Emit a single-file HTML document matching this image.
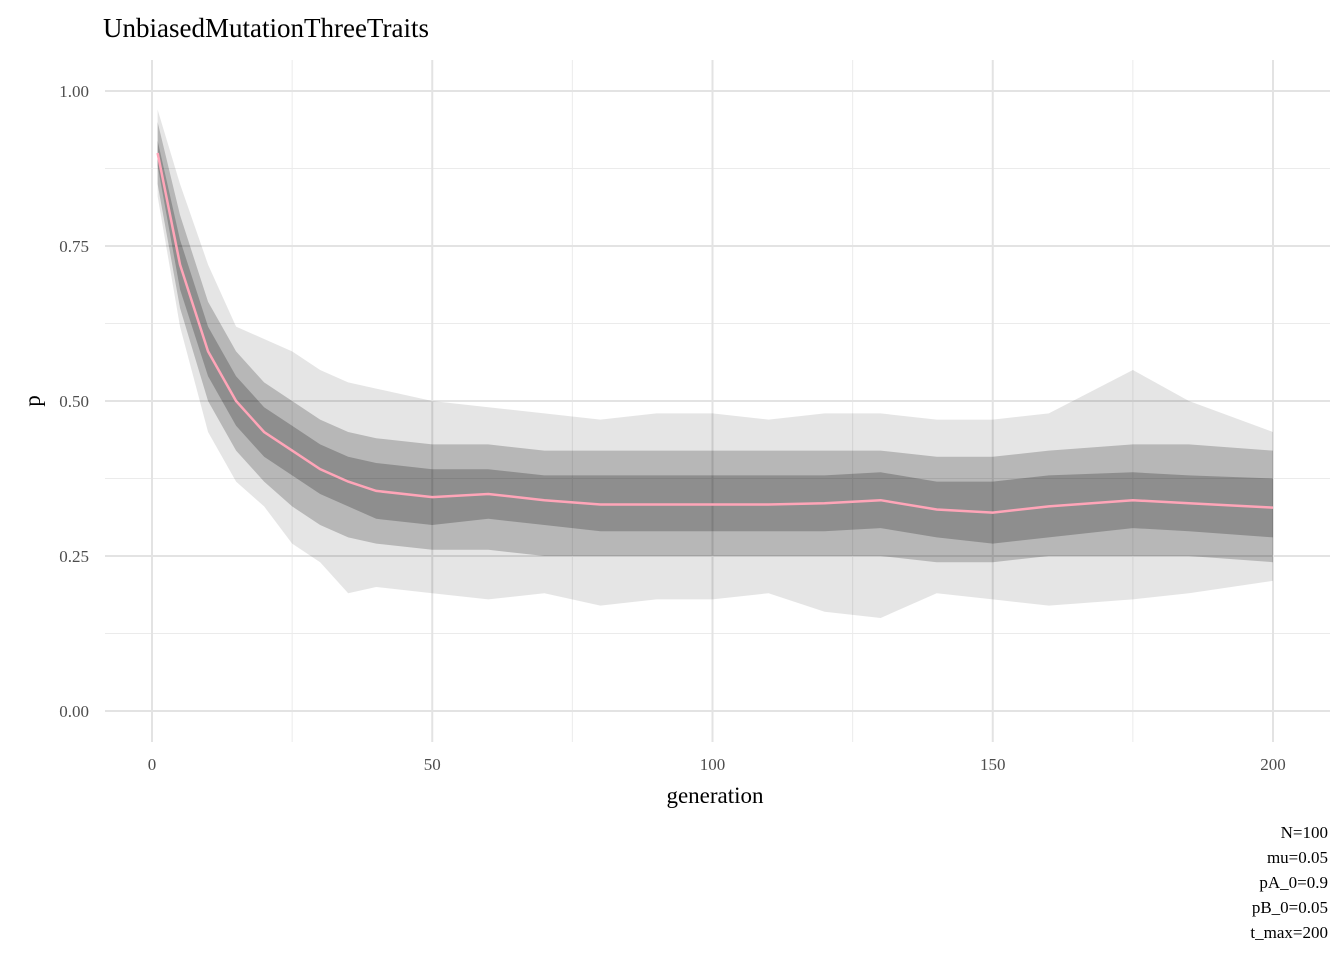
<!DOCTYPE html>
<html><head><meta charset="utf-8"><style>
body{margin:0;background:#fff;font-family:"Liberation Serif",serif;}
svg text{font-family:"Liberation Serif",serif;}
</style></head><body>
<svg id="chart" width="1344" height="960" xmlns="http://www.w3.org/2000/svg">
<text x="103" y="37" font-size="27" fill="#000">UnbiasedMutationThreeTraits</text>
<g id="grid"></g>
<g id="marks"></g>
<g id="axes"></g>
<text x="715" y="803" font-size="23" text-anchor="middle">generation</text>
<text transform="translate(40,401) rotate(-90)" font-size="23" text-anchor="middle">p</text>
<g font-size="17" text-anchor="end">
<text x="1328" y="838">N=100</text>
<text x="1328" y="863">mu=0.05</text>
<text x="1328" y="888">pA_0=0.9</text>
<text x="1328" y="913">pB_0=0.05</text>
<text x="1328" y="938">t_max=200</text>
</g>
</svg>
<script>
const gens=[1,5,10,15,20,25,30,35,40,50,60,70,80,90,100,110,120,130,140,150,160,175,185,200];
const meanP=[0.90,0.72,0.58,0.50,0.45,0.42,0.39,0.37,0.355,0.345,0.35,0.34,0.333,0.333,0.333,0.333,0.335,0.34,0.325,0.32,0.33,0.34,0.335,0.328];
const outerHi=[0.97,0.85,0.72,0.62,0.60,0.58,0.55,0.53,0.52,0.50,0.49,0.48,0.47,0.48,0.48,0.47,0.48,0.48,0.47,0.47,0.48,0.55,0.50,0.45];
const outerLo=[0.83,0.62,0.45,0.37,0.33,0.27,0.24,0.19,0.20,0.19,0.18,0.19,0.17,0.18,0.18,0.19,0.16,0.15,0.19,0.18,0.17,0.18,0.19,0.21];
const midHi=[0.95,0.80,0.66,0.58,0.53,0.50,0.47,0.45,0.44,0.43,0.43,0.42,0.42,0.42,0.42,0.42,0.42,0.42,0.41,0.41,0.42,0.43,0.43,0.42];
const midLo=[0.85,0.65,0.50,0.42,0.37,0.33,0.30,0.28,0.27,0.26,0.26,0.25,0.25,0.25,0.25,0.25,0.25,0.25,0.24,0.24,0.25,0.25,0.25,0.24];
const coreHi=[0.92,0.76,0.62,0.54,0.49,0.46,0.43,0.41,0.40,0.39,0.39,0.38,0.38,0.38,0.38,0.38,0.38,0.385,0.37,0.37,0.38,0.385,0.38,0.375];
const coreLo=[0.88,0.68,0.54,0.46,0.41,0.38,0.35,0.33,0.31,0.30,0.31,0.30,0.29,0.29,0.29,0.29,0.29,0.295,0.28,0.27,0.28,0.295,0.29,0.28];
const xTicks=[0,50,100,150,200];
const yTicks=[0,0.25,0.5,0.75,1];
const NS="http://www.w3.org/2000/svg";
const X=g=>152+g*(1273-152)/200;
const Y=v=>711-v*620;
function mk(t,a,p){const e=document.createElementNS(NS,t);for(const k in a)e.setAttribute(k,a[k]);p.appendChild(e);return e;}
const grid=document.getElementById('grid'),marks=document.getElementById('marks'),axes=document.getElementById('axes');
for(let v=0.125;v<1.1;v+=0.25){const l=mk('line',{x1:105,x2:1330,y1:Y(v),y2:Y(v),stroke:'#ebebeb','stroke-width':1},grid);

}
for(let g=25;g<=225;g+=50){const l=mk('line',{x1:X(g),x2:X(g),y1:60,y2:742,stroke:'#ebebeb','stroke-width':1},grid);

}
yTicks.forEach(v=>{const l=mk('line',{x1:105,x2:1330,y1:Y(v),y2:Y(v),stroke:'#e3e3e3','stroke-width':2},grid);


const t=mk('text',{x:89,y:Y(v)+6,'font-size':17,'text-anchor':'end',fill:'#4d4d4d'},axes);t.textContent=v.toFixed(2);

});
xTicks.forEach(g=>{const l=mk('line',{x1:X(g),x2:X(g),y1:60,y2:742,stroke:'#e3e3e3','stroke-width':2},grid);


const t=mk('text',{x:X(g),y:770,'font-size':17,'text-anchor':'middle',fill:'#4d4d4d'},axes);t.textContent=g;

});
function band(hi,lo,fill,op,name){let d='M'+gens.map((g,i)=>X(g)+','+Y(hi[i])).join('L');
for(let i=gens.length-1;i>=0;i--)d+='L'+X(gens[i])+','+Y(lo[i]);d+='Z';
const p=mk('path',{d:d,fill:fill,'fill-opacity':op},marks);

}
band(outerHi,outerLo,'#000',0.1,'runs-outer-band');
band(midHi,midLo,'#000',0.2,'runs-middle-band');
band(coreHi,coreLo,'#000',0.22,'runs-core-band');
const ml=mk('path',{d:'M'+gens.map((g,i)=>X(g)+','+Y(meanP[i])).join('L'),fill:'none',stroke:'#ffa5b8','stroke-width':2.5},marks);


</script>
</body></html>
